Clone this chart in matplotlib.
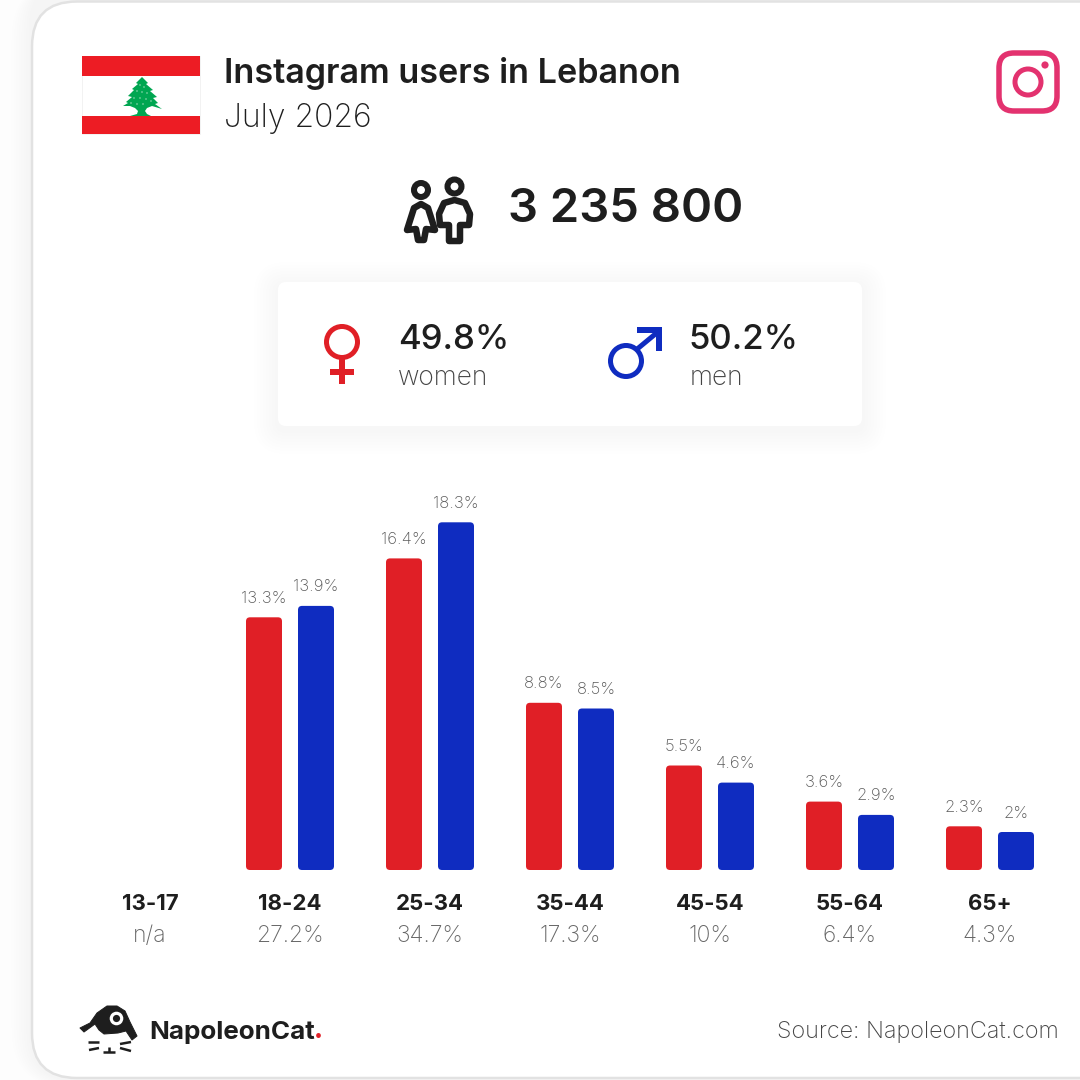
import matplotlib
matplotlib.use('Agg')
import matplotlib.pyplot as plt
from matplotlib.patches import Circle, FancyBboxPatch, Polygon, Rectangle

plt.rcParams['font.family'] = ['Inter', 'DejaVu Sans']

# chart data, percent of all users
age_groups = ['13-17', '18-24', '25-34', '35-44', '45-54', '55-64', '65+']
women = [None, 13.3, 16.4, 8.8, 5.5, 3.6, 2.3]
men = [None, 13.9, 18.3, 8.5, 4.6, 2.9, 2.0]
women_labels = ['', '13.3%', '16.4%', '8.8%', '5.5%', '3.6%', '2.3%']
men_labels = ['', '13.9%', '18.3%', '8.5%', '4.6%', '2.9%', '2%']
totals = ['n/a', '27.2%', '34.7%', '17.3%', '10%', '6.4%', '4.3%']

RED = '#E01F26'
BLUE = '#0F2CC0'
DARK = '#1E1E1E'
GREY = '#666666'
PINK = '#E3326F'
FLAG_RED = '#ED1C24'
CEDAR = '#00A651'


def px(v):
    return v * 72 / 100


def rounded(ax, x0, y0, x1, y1, r, **kw):
    p = FancyBboxPatch((x0, y0), x1 - x0, y1 - y0,
                       boxstyle=f'round,pad=0,rounding_size={r}', **kw)
    ax.add_patch(p)
    return p


def line(ax, pts, color=DARK, lw=5, closed=False):
    xs = [p[0] for p in pts]
    ys = [p[1] for p in pts]
    if closed:
        ax.add_patch(Polygon(pts, closed=True, fill=False, ec=color, lw=px(lw), joinstyle='round', zorder=6))
    else:
        ax.plot(xs, ys, color=color, lw=px(lw), solid_capstyle='butt', solid_joinstyle='round', zorder=6)


def ring(ax, x, y, r, color, lw):
    ax.add_patch(Circle((x, y), r, fill=False, ec=color, lw=px(lw), zorder=6))


def draw_card(ax):
    for i in range(8):
        rounded(ax, 29 - 2.5 * i, -20, 1200, 1081 + i, 46 + 2 * i, fc='#000000', ec='none', alpha=0.004, zorder=0)
    rounded(ax, 32, 1.5, 1200, 1078, 45, fc='white', ec='#E2E2E2', lw=px(2.5), zorder=1)
    for i in range(8):
        grow = 24 - 3 * i
        rounded(ax, 278 - grow, 282 - grow + 4, 862 + grow, 426 + grow + 4, 8 + grow,
                fc='#000000', ec='none', alpha=0.004, zorder=2)
    rounded(ax, 278, 282, 862, 426, 8, fc='white', ec='none', zorder=3)


def draw_flag(ax):
    ax.add_patch(Rectangle((82, 56), 118, 78, fc='white', ec='#F2F2F2', lw=px(1), zorder=3))
    ax.add_patch(Rectangle((82, 56), 118, 20, fc=FLAG_RED, ec='none', zorder=4))
    ax.add_patch(Rectangle((82, 116), 118, 18, fc=FLAG_RED, ec='none', zorder=4))
    tree = [(142, 77), (148, 83), (146, 84), (153, 90), (150, 91), (157, 97), (153, 98),
            (158, 103), (155, 104), (162, 109), (152, 106), (147, 108), (145, 111), (147, 114),
            (151, 116), (130, 116), (137, 114), (138, 111), (135, 108), (130, 106), (123, 106),
            (128, 103), (126, 102), (132, 97), (128, 96), (134, 90), (132, 89), (138, 84), (136, 83)]
    ax.add_patch(Polygon(tree, closed=True, fc=CEDAR, ec='none', zorder=5))
    for x, y in [(140, 85), (144, 87), (137, 91), (142, 92), (147, 93), (134, 98), (140, 98),
                 (146, 99), (151, 101), (131, 103), (137, 104), (143, 104)]:
        ax.add_patch(Circle((x, y), 0.7, fc='#B8E6CC', ec='none', zorder=6))


def draw_people(ax):
    ring(ax, 421, 190, 7, DARK, 6)
    ring(ax, 454.5, 186.5, 7, DARK, 6)
    woman = [(421, 204), (428, 208), (435, 230), (426, 229), (424, 240), (418, 240), (416, 229), (407, 230), (414, 208)]
    man = [(454.5, 200), (465, 203), (470, 214), (469, 225), (460, 225), (460, 241), (449, 241), (449, 225), (440, 225), (439, 214), (444, 203)]
    line(ax, woman, closed=True, lw=6.5)
    line(ax, man, closed=True, lw=6.5)


def draw_gender_icons(ax):
    ring(ax, 342, 342, 15.5, RED, 5)
    ax.add_patch(Rectangle((339, 358), 6, 26, fc=RED, ec='none', zorder=5))
    ax.add_patch(Rectangle((330, 369), 24, 6, fc=RED, ec='none', zorder=5))
    ring(ax, 626, 361, 15.5, BLUE, 5)
    line(ax, [(636, 350), (659, 331)], color=BLUE, lw=5)
    ax.add_patch(Rectangle((637, 327), 25, 6, fc=BLUE, ec='none', zorder=5))
    ax.add_patch(Rectangle((656, 327), 6, 24, fc=BLUE, ec='none', zorder=5))


def draw_instagram(ax):
    rounded(ax, 999, 53, 1057, 111, 15, fc='none', ec=PINK, lw=px(5.5), zorder=5)
    ring(ax, 1028, 82, 13, PINK, 5)
    ax.add_patch(Circle((1045, 65), 3.6, fc=PINK, ec='none', zorder=5))


def draw_logo(ax):
    head = [(80, 1028), (90, 1023), (97, 1013), (107, 1006), (117, 1006), (125, 1011), (130, 1022),
            (137, 1036), (132, 1040), (126, 1031), (118, 1033), (104, 1034), (99, 1030),
            (95, 1024), (84, 1032)]
    ax.add_patch(Polygon(head, closed=True, fc=DARK, ec=DARK, lw=px(1), joinstyle='round', zorder=5))
    ax.add_patch(Circle((116.5, 1018.5), 6.8, fc='white', ec='none', zorder=6))
    ax.add_patch(Circle((116.5, 1018.5), 3.6, fc=DARK, ec='none', zorder=7))
    for pts in ([(88, 1042), (99, 1042)], [(89, 1050), (99, 1048)], [(120, 1044), (131, 1042)],
                [(120, 1048), (131, 1051)], [(109, 1047), (109, 1052)], [(103, 1052), (115, 1052)]):
        line(ax, pts, lw=2.5)


fig = plt.figure(figsize=(10.8, 10.8), dpi=100, facecolor='#FDFDFD')

# full size layer in reference pixels for the card, the icons and the header
bg = fig.add_axes([0, 0, 1, 1])
bg.set_xlim(0, 1080)
bg.set_ylim(1080, 0)
bg.axis('off')

draw_card(bg)
draw_flag(bg)
draw_people(bg)
draw_gender_icons(bg)
draw_instagram(bg)
draw_logo(bg)

bg.text(224, 73, 'Instagram users in Lebanon', fontsize=24.6, weight=600, color=DARK, va='center', zorder=6)
bg.text(224, 118, 'July 2026', fontsize=23, weight=200, color=DARK, va='center', zorder=6)
bg.text(508, 210, '3 235 800', fontsize=34, weight=600, color=DARK, va='center', zorder=6)
bg.text(398, 340, '49.8%', fontsize=25, weight=500, color=DARK, va='center', zorder=6)
bg.text(398, 378, 'women', fontsize=19, weight=200, color='#444444', va='center', zorder=6)
bg.text(688, 340, '50.2%', fontsize=25, weight=500, color=DARK, va='center', zorder=6)
bg.text(690, 378, 'men', fontsize=19, weight=200, color='#444444', va='center', zorder=6)
bg.text(149, 1032, 'NapoleonCat', fontsize=18.7, weight=700, color=DARK, va='center', zorder=6)
bg.text(314, 1032, '.', fontsize=18.7, weight=800, color=RED, va='center', zorder=6)
bg.text(1059, 1032, 'Source: NapoleonCat.com', fontsize=16.8, weight=250, color='#444444', va='center', ha='right', zorder=6)

# bars: 140 px per age group, 19 px per percent, baseline at y=870
ax = fig.add_axes([80 / 1080, (1080 - 870) / 1080, 980 / 1080, 400 / 1080])
ax.set_xlim(-0.5, 6.5)
ax.set_ylim(0, 400 / 19)
ax.axis('off')
ax.patch.set_alpha(0)

bar_w = 36 / 140
gap = 52 / 140
for i, group in enumerate(age_groups):
    ax.annotate(group, (i, 0), xytext=(0, px(-34)), textcoords='offset points', ha='center', va='center',
                fontsize=16, weight=700, color=DARK, annotation_clip=False)
    ax.annotate(totals[i], (i, 0), xytext=(0, px(-66)), textcoords='offset points', ha='center', va='center',
                fontsize=16.5, weight=250, color=GREY, annotation_clip=False)
    if women[i] is None:
        continue
    for off, val, lab, col in ((-gap / 2, women[i], women_labels[i], RED), (gap / 2, men[i], men_labels[i], BLUE)):
        ax.add_patch(FancyBboxPatch((i + off - bar_w / 2, 0), bar_w, val,
                                    boxstyle=f'round,pad=0,rounding_size={4 / 140}',
                                    mutation_aspect=140 / 19, fc=col, ec='none'))
        ax.annotate(lab, (i + off, val), xytext=(0, px(19)), textcoords='offset points', ha='center', va='center',
                    fontsize=12, weight=250, color='#5A5A5A', annotation_clip=False)

fig.savefig('out.png', dpi=100, facecolor=fig.get_facecolor())
